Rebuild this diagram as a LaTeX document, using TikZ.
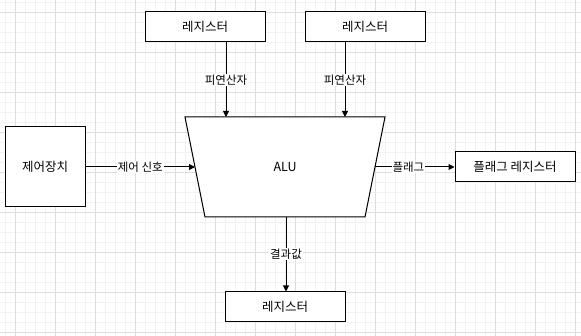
\documentclass[tikz,border=0pt]{standalone}
\usepackage{fontspec}
\setmainfont{Noto Sans CJK KR}
\usetikzlibrary{arrows.meta}
\begin{document}
\begin{tikzpicture}[x=1pt,y=-1pt,
  box/.style={draw=black,line width=1pt,fill=white,minimum width=120pt,minimum height=30pt,inner sep=0pt,font=\fontsize{12.5}{14}\selectfont},
  conn/.style={draw=black,line width=1pt,-{Triangle[length=6pt,width=6pt]}},
  lbl/.style={fill=white,inner sep=1pt,font=\fontsize{11.5}{13}\selectfont}]
\useasboundingbox (0,0) rectangle (581,336);
\fill[white] (0,0) rectangle (581,336);
\foreach \x in {5,15,...,575} \draw[black!5,line width=0.8pt] (\x,0) -- (\x,336);
\foreach \y in {2,12,...,332} \draw[black!5,line width=0.8pt] (0,\y) -- (581,\y);
\foreach \x in {15,55,...,575} \draw[black!13,line width=0.8pt] (\x,0) -- (\x,336);
\foreach \y in {12,52,...,332} \draw[black!13,line width=0.8pt] (0,\y) -- (581,\y);

\node[box] (r1) at (205,27) {레지스터};
\node[box] (r2) at (365,27) {레지스터};
\node[box,minimum width=80pt,minimum height=80pt] (cu) at (45,167) {제어장치};
\node[box] (fr) at (515,167) {플래그 레지스터};
\node[box] (r3) at (285,307) {레지스터};

\draw[line width=1pt,fill=white] (185,117) -- (385,117) -- (365,217) -- (205,217) -- cycle;
\node[font=\fontsize{12.5}{14}\selectfont] (alu) at (285,167) {ALU};
\coordinate (aluT1) at (226,117);
\coordinate (aluT2) at (345,117);
\coordinate (aluL) at (195,167);
\coordinate (aluR) at (375,167);
\coordinate (aluB) at (286,217);

\draw[conn] (r1.south -| aluT1) -- node[lbl] {피연산자} (aluT1);
\draw[conn] (r2.south -| aluT2) -- node[lbl] {피연산자} (aluT2);
\draw[conn] (cu.east) -- node[lbl,pos=0.5] {제어 신호} (aluL);
\draw[conn] (aluR) -- node[lbl,pos=0.42] {플래그} (fr.west);
\draw[conn] (aluB) -- node[lbl,pos=0.5] {결과값} (aluB |- r3.north);
\end{tikzpicture}
\end{document}
